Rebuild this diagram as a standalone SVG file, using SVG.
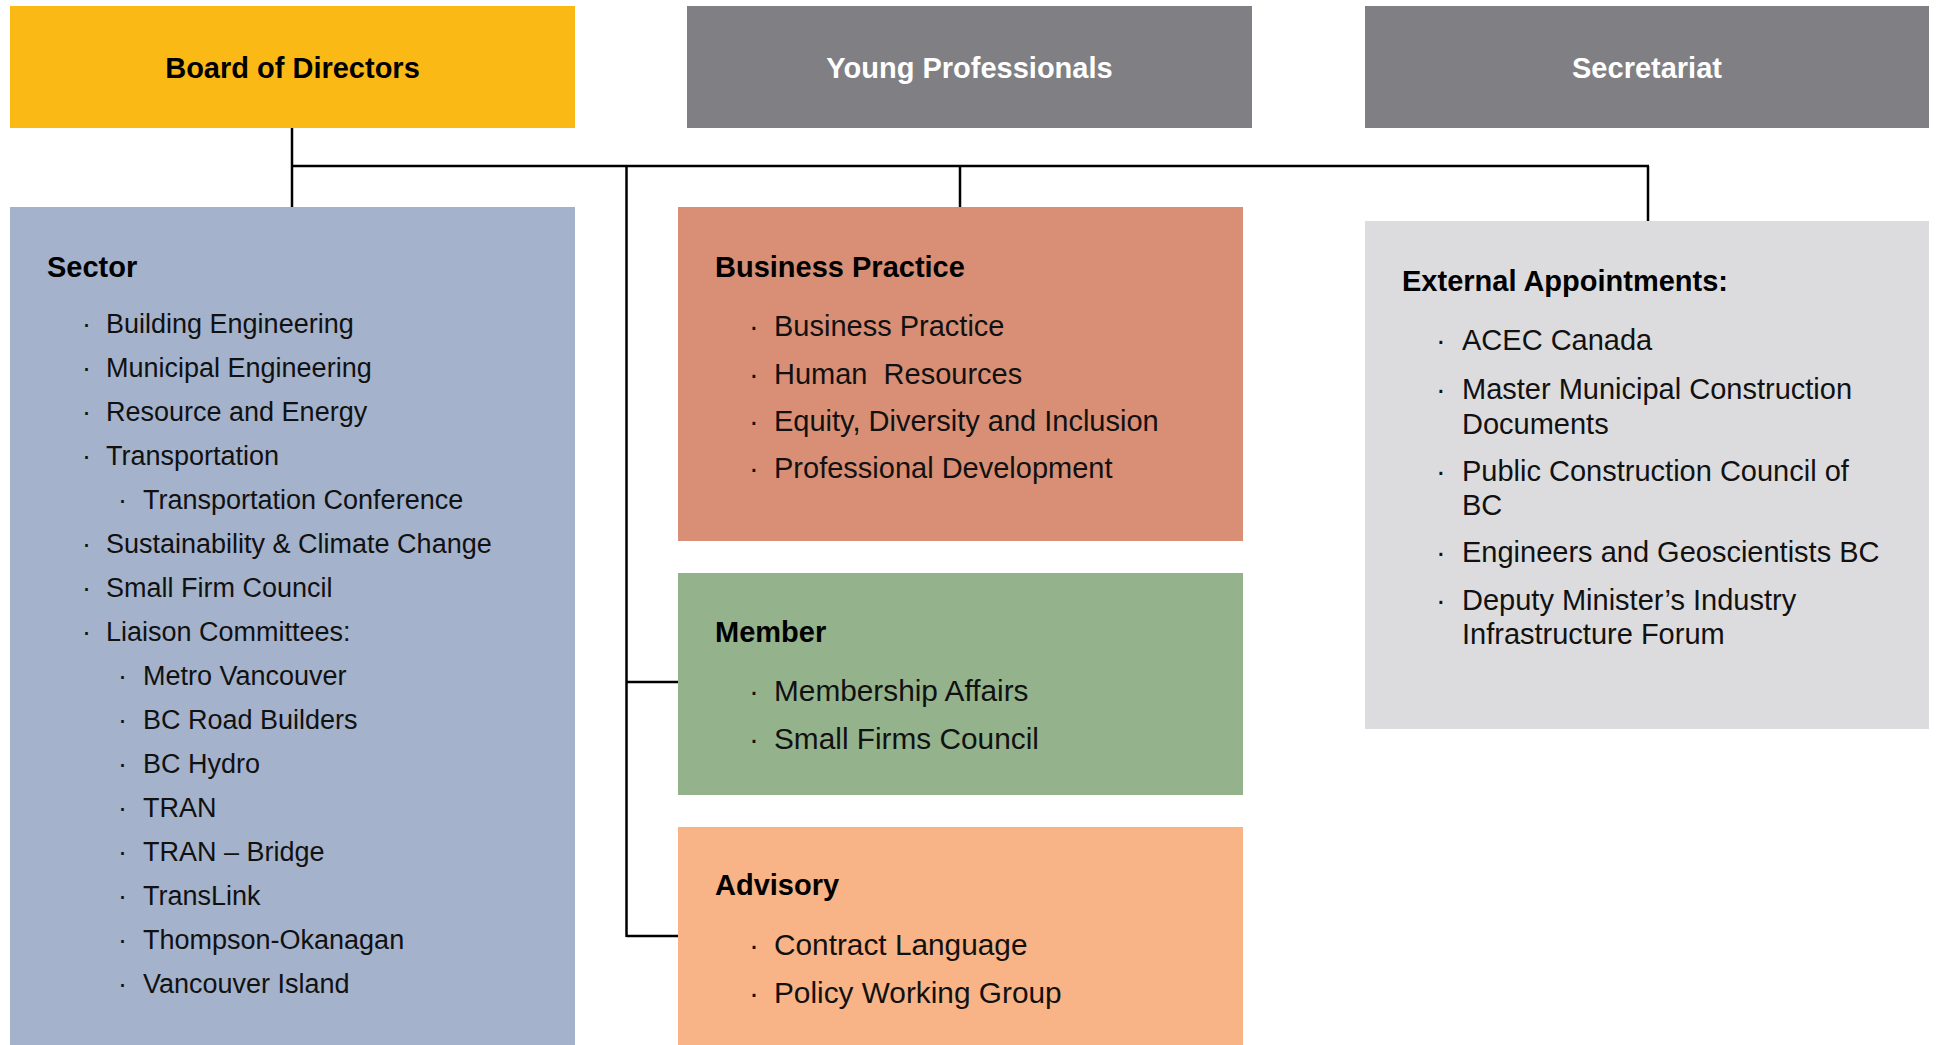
<svg xmlns="http://www.w3.org/2000/svg" width="1939" height="1045" viewBox="0 0 1939 1045">
<style>
.title{font-family:"Liberation Sans",Arial,sans-serif;font-weight:bold;font-size:29px;text-anchor:middle}
.head{font-family:"Liberation Sans",Arial,sans-serif;font-weight:bold;font-size:29px;fill:#000}
.item{font-family:"Liberation Sans",Arial,sans-serif;font-size:29px;fill:#111}
.mitem{font-family:"Liberation Sans",Arial,sans-serif;font-size:29.8px;fill:#111}
.sitem{font-family:"Liberation Sans",Arial,sans-serif;font-size:27px;fill:#111}
.conn{stroke:#000;stroke-width:2.5;fill:none}
</style>
<rect width="1939" height="1045" fill="#fff"/>
<g id="connectors">
<path class="conn" d="M292 128V207"/>
<path class="conn" d="M292 166H1649"/>
<path class="conn" d="M960 166V207"/>
<path class="conn" d="M1648 166V221"/>
<path class="conn" d="M626.5 166V937"/>
<path class="conn" d="M626.5 682H678"/>
<path class="conn" d="M626.5 936H678"/>
</g>
<g id="board">
<rect x="10" y="6" width="565" height="122" fill="#FBB915"/>
<text class="title" x="292.5" y="78" fill="#000">Board of Directors</text>
</g>
<g id="young-professionals">
<rect x="687" y="6" width="565" height="122" fill="#808084"/>
<text class="title" x="969.5" y="78" fill="#fff">Young Professionals</text>
</g>
<g id="secretariat">
<rect x="1365" y="6" width="564" height="122" fill="#808084"/>
<text class="title" x="1647" y="78" fill="#fff">Secretariat</text>
</g>
<g id="sector">
<rect x="10" y="207" width="565" height="838" fill="#A4B2CC"/>
<text class="head" x="47" y="277">Sector</text>
<g class="sitem">
<text x="82" y="333">·</text><text x="106" y="333">Building Engineering</text>
<text x="82" y="377">·</text><text x="106" y="377">Municipal Engineering</text>
<text x="82" y="421">·</text><text x="106" y="421">Resource and Energy</text>
<text x="82" y="465">·</text><text x="106" y="465">Transportation</text>
<text x="118" y="509">·</text><text x="143" y="509">Transportation Conference</text>
<text x="82" y="553">·</text><text x="106" y="553">Sustainability &amp; Climate Change</text>
<text x="82" y="597">·</text><text x="106" y="597">Small Firm Council</text>
<text x="82" y="641">·</text><text x="106" y="641">Liaison Committees:</text>
<text x="118" y="685">·</text><text x="143" y="685">Metro Vancouver</text>
<text x="118" y="729">·</text><text x="143" y="729">BC Road Builders</text>
<text x="118" y="773">·</text><text x="143" y="773">BC Hydro</text>
<text x="118" y="817">·</text><text x="143" y="817">TRAN</text>
<text x="118" y="861">·</text><text x="143" y="861">TRAN – Bridge</text>
<text x="118" y="905">·</text><text x="143" y="905">TransLink</text>
<text x="118" y="949">·</text><text x="143" y="949">Thompson-Okanagan</text>
<text x="118" y="993">·</text><text x="143" y="993">Vancouver Island</text>
</g>
</g>
<g id="business-practice">
<rect x="678" y="207" width="565" height="334" fill="#D88F76"/>
<text class="head" x="715" y="277">Business Practice</text>
<g class="item">
<text x="749" y="336">·</text><text x="774" y="336">Business Practice</text>
<text x="749" y="384">·</text><text x="774" y="384" style="white-space:pre">Human  Resources</text>
<text x="749" y="431">·</text><text x="774" y="431">Equity, Diversity and Inclusion</text>
<text x="749" y="478">·</text><text x="774" y="478">Professional Development</text>
</g>
</g>
<g id="member">
<rect x="678" y="573" width="565" height="222" fill="#94B38D"/>
<text class="head" x="715" y="642">Member</text>
<g class="mitem">
<text x="749" y="701">·</text><text x="774" y="701">Membership Affairs</text>
<text x="749" y="749">·</text><text x="774" y="749">Small Firms Council</text>
</g>
</g>
<g id="advisory">
<rect x="678" y="827" width="565" height="218" fill="#F8B386"/>
<text class="head" x="715" y="895">Advisory</text>
<g class="mitem">
<text x="749" y="955">·</text><text x="774" y="955">Contract Language</text>
<text x="749" y="1003">·</text><text x="774" y="1003">Policy Working Group</text>
</g>
</g>
<g id="external-appointments">
<rect x="1365" y="221" width="564" height="508" fill="#DCDCDE"/>
<text class="head" x="1402" y="291">External Appointments:</text>
<g class="item">
<text x="1436" y="350">·</text><text x="1462" y="350">ACEC Canada</text>
<text x="1436" y="399">·</text><text x="1462" y="399">Master Municipal Construction</text>
<text x="1462" y="434">Documents</text>
<text x="1436" y="481">·</text><text x="1462" y="481">Public Construction Council of</text>
<text x="1462" y="515">BC</text>
<text x="1436" y="562">·</text><text x="1462" y="562">Engineers and Geoscientists BC</text>
<text x="1436" y="610">·</text><text x="1462" y="610">Deputy Minister’s Industry</text>
<text x="1462" y="644">Infrastructure Forum</text>
</g>
</g>
</svg>
